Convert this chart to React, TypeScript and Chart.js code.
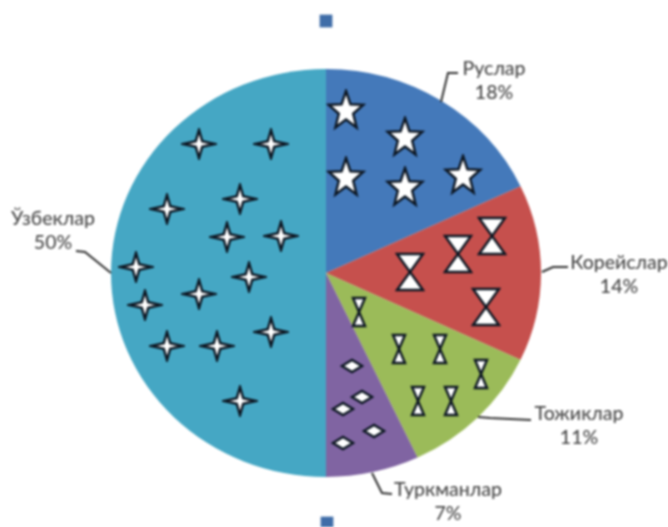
import React, { useEffect, useRef } from "react";
import { Chart, registerables } from "chart.js";

Chart.register(...registerables);

// Pie values
const categories = ["Руслар", "Корейслар", "Тожиклар", "Туркманлар", "Ўзбеклар"];
const shares = [18, 14, 11, 7, 50];
const sliceColors = ["#4479BA", "#C6504D", "#9BBB59", "#8064A2", "#45A7C4"];

// Marker values on the hidden axes: offset from the pie centre [x, up]
const starsX = [20, 79, 20, 79, 137];
const starsY = [163, 136, 96, 86, 98];
const bigGlassX = [84, 132, 166, 160];
const bigGlassY = [1, 19, 37, -34];
const smallGlassX = [33, 73, 114, 155, 92, 125];
const smallGlassY = [-39, -76, -76, -101, -128, -128];
const diamondX = [26, 36, 17, 48, 17];
const diamondY = [-93, -124, -136, -158, -170];
const sparkX = [-127, -55, -86, -159, -99, -45, -190, -77, -127, -181, -159, -109, -55, -86];
const sparkY = [129, 129, 74, 64, 36, 37, 6, -4, -21, -32, -73, -73, -59, -128];
const squareX = [0, 1];
const squareY = [252, -250];

// Leader lines, same axes
const leaderX = [[115, 122, 132], [216, 227, 242], [152, 164, 205], [46, 56, 66], [-250, -241, -215]];
const leaderY = [[171, 200, 200], [1, 6, 6], [-144, -145, -147], [-200, -220, -221], [22, 21, 0]];

const labelAnchors = [
  [494, 69],
  [619, 263],
  [579, 414],
  [448, 490],
  [53, 219],
];
const labelLineGap = 24;

function icon(w: number, h: number, draw: (c: CanvasRenderingContext2D) => void) {
  const cv = document.createElement("canvas");
  cv.width = w + 4;
  cv.height = h + 4;
  const c = cv.getContext("2d")!;
  c.translate(2, 2);
  c.beginPath();
  draw(c);
  c.closePath();
  c.fillStyle = "#ffffff";
  c.strokeStyle = "#0c1622";
  c.lineWidth = 2.4;
  c.lineJoin = "miter";
  c.fill();
  c.stroke();
  return cv;
}

const poly = (c: CanvasRenderingContext2D, pts: number[][]) =>
  pts.forEach(([x, y], i) => (i ? c.lineTo(x, y) : c.moveTo(x, y)));

function starIcon(w: number, h: number) {
  return icon(w, h, (c) => {
    const pts: number[][] = [];
    for (let i = 0; i < 10; i++) {
      const r = i % 2 ? 0.42 : 1;
      const a = -Math.PI / 2 + (i * Math.PI) / 5;
      pts.push([w / 2 + (w / 2) * r * Math.cos(a), h * 0.53 + h * 0.53 * r * Math.sin(a)]);
    }
    poly(c, pts);
  });
}
function glassIcon(w: number, h: number) {
  return icon(w, h, (c) =>
    poly(c, [[0, 0], [w, 0], [0, h], [w, h]])
  );
}
function diamondIcon(w: number, h: number) {
  return icon(w, h, (c) =>
    poly(c, [[0, h / 2], [w / 2, 0], [w, h / 2], [w / 2, h]])
  );
}
function sparkIcon(w: number, h: number) {
  return icon(w, h, (c) => {
    const k = 0.1;
    poly(c, [
      [w / 2, 0],
      [w / 2 + w * k, h / 2 - h * k],
      [w, h / 2],
      [w / 2 + w * k, h / 2 + h * k],
      [w / 2, h],
      [w / 2 - w * k, h / 2 + h * k],
      [0, h / 2],
      [w / 2 - w * k, h / 2 - h * k],
    ]);
  });
}

const zip = (xs: number[], ys: number[]) => xs.map((x, i) => ({ x, y: ys[i] }));

const markerSet = (data: { x: number; y: number }[], pointStyle: any) => ({
  type: "scatter" as const,
  indexAxis: "x",
  data,
  weight: 0,
  order: 0,
  pointStyle,
  pointRadius: 10,
  clip: false,
});

const labelsPlugin = {
  id: "sliceLabels",
  afterDraw(chart: Chart) {
    const { ctx } = chart;
    ctx.save();
    ctx.fillStyle = "#4a4a4a";
    ctx.font = '500 19.5px "Lato", "Open Sans", sans-serif';
    ctx.textAlign = "center";
    ctx.textBaseline = "middle";
    categories.forEach((name, i) => {
      const [x, y] = labelAnchors[i];
      ctx.fillText(name, x, y);
      ctx.fillText(shares[i] + "%", x, y + labelLineGap);
    });
    ctx.restore();
  },
};

const ellipsePlugin = {
  id: "pieSquash",
  beforeDatasetDraw(chart: Chart, args: any) {
    if (args.index !== 0) return;
    const arc: any = chart.getDatasetMeta(0).data[0];
    const { ctx } = chart;
    ctx.save();
    ctx.translate(arc.x, arc.y);
    ctx.scale(1, 204 / 215);
    ctx.translate(-arc.x, -arc.y);
  },
  afterDatasetDraw(chart: Chart, args: any) {
    if (args.index === 0) chart.ctx.restore();
  },
};

export default function App() {
  const ref = useRef<HTMLCanvasElement>(null);

  useEffect(() => {
    document.body.style.margin = "0";
    const chart = new Chart(ref.current!, {
      type: "pie",
      data: {
        labels: categories,
        datasets: [
          {
            data: shares,
            backgroundColor: sliceColors,
            borderWidth: 0,
            radius: 215,
            weight: 1,
            order: 10,
          } as any,
          markerSet(zip(starsX, starsY), starIcon(36, 38)),
          markerSet(zip(bigGlassX, bigGlassY), glassIcon(26, 36)),
          markerSet(zip(smallGlassX, smallGlassY), glassIcon(12, 28)),
          markerSet(zip(diamondX, diamondY), diamondIcon(20, 12)),
          markerSet(zip(sparkX, sparkY), sparkIcon(32, 28)),
          {
            type: "scatter",
            indexAxis: "x",
            data: zip(squareX, squareY),
            weight: 0,
            order: 0,
            pointStyle: "rect",
            pointRadius: 9,
            backgroundColor: "#3F6DA8",
            borderWidth: 0,
            clip: false,
          } as any,
          ...leaderX.map((xs, i) => ({
            type: "scatter",
            indexAxis: "x",
            data: zip(xs, leaderY[i]),
            showLine: true,
            borderColor: "#333333",
            borderWidth: 2,
            pointRadius: 0,
            weight: 0,
            order: 0,
            clip: false,
          })),
        ] as any,
      },
      options: {
        responsive: false,
        animation: false,
        layout: { autoPadding: false, padding: { right: 16, top: 19, left: 0, bottom: 0 } },
        plugins: { legend: { display: false }, tooltip: { enabled: false } },
        scales: {
          x: { type: "linear", display: false, min: -326, max: 326 },
          y: { type: "linear", display: false, min: -254, max: 254 },
        },
      } as any,
      plugins: [labelsPlugin, ellipsePlugin],
    });
    return () => chart.destroy();
  }, []);

  return (
    <canvas
      ref={ref}
      width={668}
      height={527}
      style={{ display: "block", position: "absolute", left: 0, top: 0, filter: "blur(0.8px)" }}
    />
  );
}
